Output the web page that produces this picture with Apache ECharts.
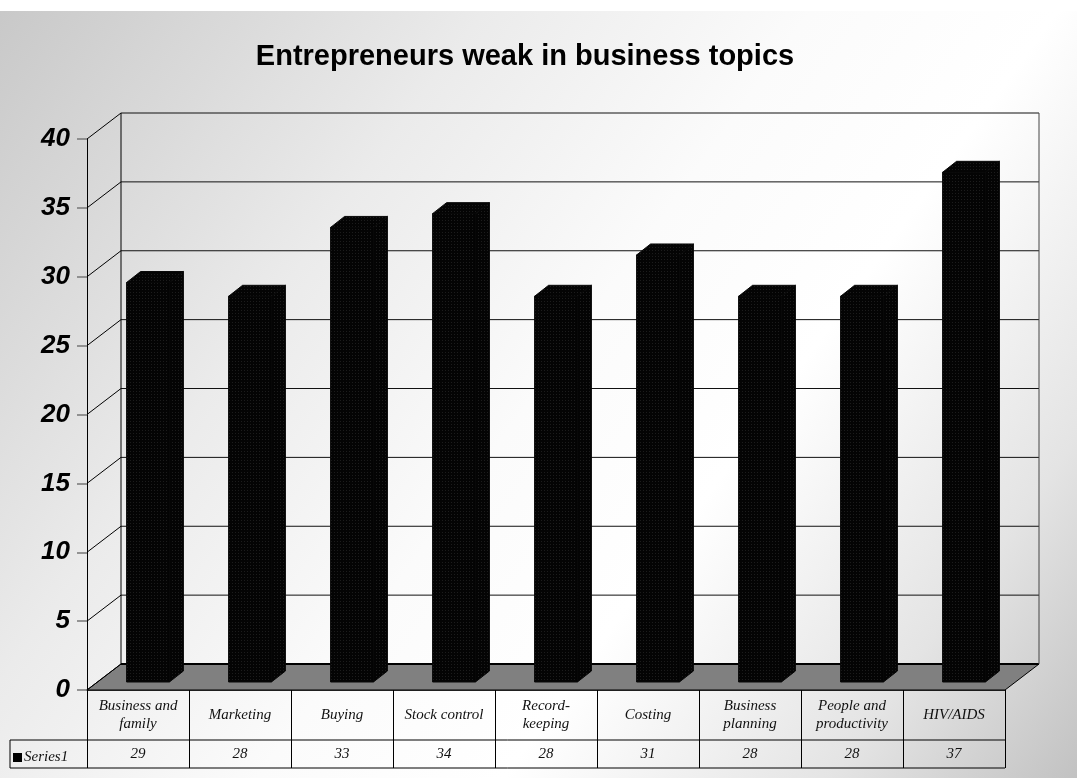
<!DOCTYPE html>
<html><head><meta charset="utf-8">
<script src="https://cdn.jsdelivr.net/npm/echarts@6/dist/echarts.min.js"></script>
<style>html,body{margin:0;padding:0;background:#fff}#c{width:1077px;height:778px}</style>
</head><body><div id="c"></div>
<script>
// ---- data ----
const titleText = 'Entrepreneurs weak in business topics';
const categories = ['Business and\nfamily', 'Marketing', 'Buying', 'Stock control', 'Record-\nkeeping', 'Costing', 'Business\nplanning', 'People and\nproductivity', 'HIV/AIDS'];
const seriesName = 'Series1';
const values = [29, 28, 33, 34, 28, 31, 28, 28, 37];
const yTicks = [0, 5, 10, 15, 20, 25, 30, 35, 40];

// ---- style constants ----
const DX = 34, DY = 26;            // depth of the 3D box
const BAR_W = 0.42, BAR_FX = 10, BAR_FY = 8, BAR_DX = 14, BAR_DY = 11;
const ROW1 = 50, ROW2 = 28, TABLE_LEFT = 10;

const pat = document.createElement('canvas');
pat.width = 3; pat.height = 3;
const g = pat.getContext('2d');
g.fillStyle = '#040404'; g.fillRect(0, 0, 3, 3);
g.fillStyle = '#1c1c1c'; g.fillRect(1, 1, 1, 1);
const barFill = { image: pat, repeat: 'repeat' };

function ln(x1, y1, x2, y2, color, w) {
  return { type: 'line', shape: { x1, y1, x2, y2 }, style: { stroke: color || '#000', lineWidth: w || 1 } };
}

function renderDecor(params, api) {
  const cs = params.coordSys;
  const L = cs.x, R = cs.x + cs.width, B = cs.y + cs.height;
  const ch = [];
  ch.push({ type: 'polygon', shape: { points: [[L, B], [R, B], [R + DX, B - DY], [L + DX, B - DY]] },
            style: { fill: '#808080', stroke: '#000', lineWidth: 1 } });
  yTicks.forEach(v => {
    const y = api.coord([0, v])[1];
    ch.push(ln(L, y, L + DX, y - DY, '#000', 1));
    if (v > yTicks[0]) ch.push(ln(L + DX, y - DY, R + DX, y - DY, '#111', 1));
  });
  ch.push(ln(L + DX, B - DY, R + DX, B - DY, '#000', 2));
  const yTop = api.coord([0, yTicks[yTicks.length - 1]])[1];
  ch.push(ln(L + DX, yTop - DY, L + DX, B - DY, '#000', 1));
  ch.push(ln(R + DX, yTop - DY, R + DX, B - DY, '#444', 1));
  // data table grid
  ch.push(ln(TABLE_LEFT, B + ROW1, R, B + ROW1, '#000', 1));
  ch.push(ln(TABLE_LEFT, B + ROW1 + ROW2, R, B + ROW1 + ROW2, '#000', 1));
  ch.push(ln(TABLE_LEFT, B + ROW1, TABLE_LEFT, B + ROW1 + ROW2, '#000', 1));
  return { type: 'group', children: ch };
}

function renderBar(params, api) {
  const idx = api.value(0), v = api.value(1);
  const base = api.coord([idx, 0]);
  const top = api.coord([idx, v]);
  const band = api.size([1, 0])[0];
  const w = band * BAR_W;
  const x0 = base[0] + BAR_FX - w / 2, x1 = x0 + w;
  const yb = base[1] - BAR_FY, yt = top[1] - BAR_FY;
  const st = { fill: barFill, stroke: '#080808', lineWidth: 1, lineJoin: 'miter' };
  return {
    type: 'group',
    children: [
      { type: 'polygon', shape: { points: [[x1, yb], [x1 + BAR_DX, yb - BAR_DY], [x1 + BAR_DX, yt - BAR_DY], [x1, yt]] }, style: st },
      { type: 'polygon', shape: { points: [[x0, yt], [x0 + BAR_DX, yt - BAR_DY], [x1 + BAR_DX, yt - BAR_DY], [x1, yt]] }, style: st },
      { type: 'rect', shape: { x: x0, y: yt, width: w, height: yb - yt }, style: st },
      { type: 'text', x: base[0], y: base[1] + ROW1 + ROW2 / 2,
        style: { text: String(v), align: 'center', verticalAlign: 'middle',
                 font: 'italic 15px "Liberation Serif"', fill: '#111' } }
    ]
  };
}

const chart = echarts.init(document.getElementById('c'), null, { renderer: 'canvas' });
chart.setOption({
  animation: false,
  color: ['#000'],
  backgroundColor: new echarts.graphic.LinearGradient(0, 0, 1, 1, [
    { offset: 0, color: '#c8c8c8' },
    { offset: 0.3, color: '#ebebeb' },
    { offset: 0.5, color: '#fbfbfb' },
    { offset: 0.65, color: '#ffffff' },
    { offset: 0.85, color: '#e4e4e4' },
    { offset: 1, color: '#c2c2c2' }
  ]),
  graphic: [{ type: 'rect', shape: { x: 0, y: 0, width: 1077, height: 11 }, style: { fill: '#fff' }, z: 0 }],
  title: {
    text: titleText, left: 520, top: 37, textAlign: 'center',
    textStyle: { fontFamily: 'Liberation Sans', fontWeight: 'bold', fontSize: 29, color: '#000' }
  },
  legend: {
    data: [seriesName], left: 8, top: 745, icon: 'rect', itemWidth: 9, itemHeight: 9, itemGap: 4,
    selectedMode: false,
    textStyle: { fontFamily: 'Liberation Serif', fontStyle: 'italic', fontSize: 15, color: '#111', padding: [0, 0, 0, -3] }
  },
  grid: { left: 87, right: 72, top: 139, bottom: 88, containLabel: false },
  xAxis: {
    type: 'category', data: categories, boundaryGap: true,
    axisLine: { show: true, lineStyle: { color: '#000', width: 1.5 } },
    axisTick: { show: true, interval: 0, length: ROW1 + ROW2, lineStyle: { color: '#000', width: 1 } },
    axisLabel: { interval: 0, margin: 25, verticalAlign: 'middle', align: 'center',
                 fontFamily: 'Liberation Serif', fontStyle: 'italic', fontSize: 15, lineHeight: 18, color: '#111' },
    splitLine: { show: false }
  },
  yAxis: {
    type: 'value', min: 0, max: 40, interval: 5,
    axisLine: { show: true, lineStyle: { color: '#000', width: 1 } },
    axisTick: { show: true, length: 10, lineStyle: { color: '#777', width: 1.5 } },
    axisLabel: { margin: 17, fontFamily: 'Liberation Sans', fontWeight: 'bold', fontStyle: 'italic', fontSize: 26, color: '#000' },
    splitLine: { show: false }
  },
  series: [
    { type: 'custom', name: '__decor', silent: true, clip: false, z: 1, renderItem: renderDecor, data: [[0, 0]] },
    { type: 'custom', name: seriesName, clip: false, z: 3, renderItem: renderBar,
      encode: { x: 0, y: 1 }, data: values.map((v, i) => [i, v]) }
  ]
});
</script></body></html>
